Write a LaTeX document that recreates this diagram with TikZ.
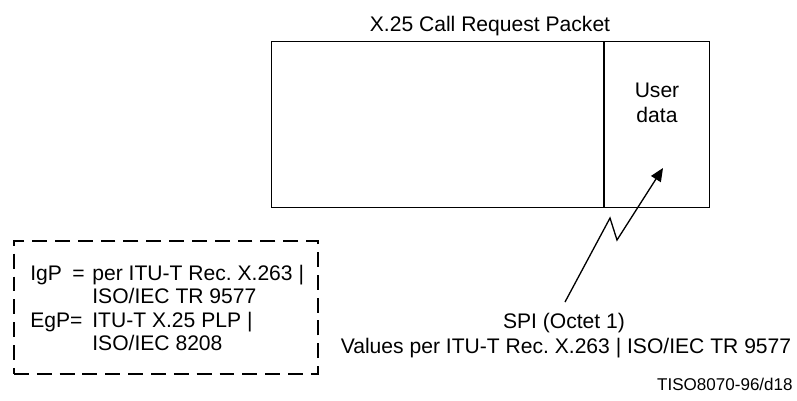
\documentclass[tikz,border=0pt]{standalone}
\usepackage{fontspec}
\setmainfont{Liberation Sans}
\usetikzlibrary{arrows.meta}
\frenchspacing

\begin{document}
\begin{tikzpicture}[x=0.02cm,y=-0.02cm]

		\tikzset{line/.style={draw,line width=0.75pt}}
		\tikzset{arrow/.style={line,-{Triangle[length=7.5pt,width=6.5pt]}}}
		\tikzset{box/.style={draw,line width=1.1pt,dash pattern=on 8.5pt off 4.5pt}}
		\tikzset{txt/.style={inner sep=0pt,font=\fontsize{12}{14}\selectfont}}
		\tikzset{small/.style={inner sep=0pt,font=\fontsize{9.7}{11}\selectfont}}

		\useasboundingbox (0,0) rectangle (797,400);

		% packet
		\node[line,rectangle,inner sep=0pt,minimum width=438*0.02cm,minimum height=166*0.02cm,anchor=north west] (pkt) at (271,41) {};
		\coordinate (divtop) at (604,41);
		\coordinate (divbot) at (604,207);
		\path[line] (divtop) -- (divbot);
		\node[txt,anchor=base] (title) at (490,31) {X.25 Call Request Packet};
		\node[txt,align=center,anchor=base] (ud) at (657,122) {User\\data};

		% SPI pointer
		\coordinate (s0) at (565,302);
		\coordinate (s1) at (610,218);
		\coordinate (s2) at (617,240);
		\coordinate (tip) at (663,168);
		\path[arrow] (s0) -- (s1) -- (s2) -- (tip);

		\node[txt,anchor=base] (spi) at (564,328) {SPI (Octet 1)};
		\node[txt,anchor=base] (vals) at (566,353) {Values per ITU-T Rec. X.263 | ISO/IEC TR 9577};

		% legend
		\node[box,rectangle,inner sep=0pt,minimum width=304*0.02cm,minimum height=133*0.02cm,anchor=north west] (leg) at (13,240) {};
		\node[txt,anchor=base west] (igp) at (30,280) {IgP};
		\node[txt,anchor=base west] (igpeq) at (72,280) {=};
		\node[txt,anchor=base west] (igpa) at (92,280) {per ITU-T Rec. X.263 |};
		\node[txt,anchor=base west] (igpb) at (92,303) {ISO/IEC TR 9577};
		\node[txt,anchor=base west] (egp) at (30,327) {EgP=};
		\node[txt,anchor=base west] (egpa) at (92,327) {ITU-T X.25 PLP |};
		\node[txt,anchor=base west] (egpb) at (92,350) {ISO/IEC 8208};

		\node[small,anchor=base east] (ref) at (793,390) {TISO8070-96/d18};

	\end{tikzpicture}
\end{document}
